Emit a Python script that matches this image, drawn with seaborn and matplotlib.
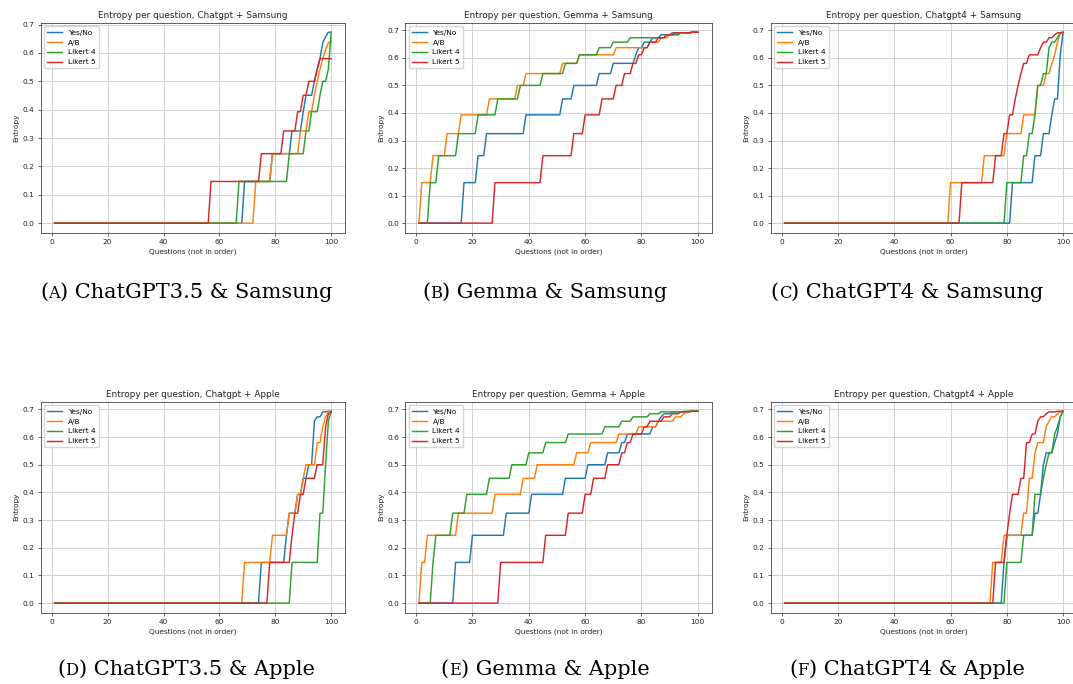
import numpy as np
import pandas as pd
import matplotlib
matplotlib.use("Agg")
import matplotlib.pyplot as plt
import seaborn as sns

# ---------------- data ----------------
# plateau values of the entropy curves (nats)
ENTROPY_LEVELS = [0.0, 0.147, 0.245, 0.325, 0.393, 0.451, 0.500, 0.543,
                  0.580, 0.611, 0.637, 0.657, 0.673, 0.684, 0.691, 0.693]
QUESTIONS = list(range(1, 101))
FORMATS = ["Yes/No", "A/B", "Likert 4", "Likert 5"]
COLORS = ["#1f77b4", "#ff7f0e", "#2ca02c", "#d62728"]

# number of questions lying on each entropy level (index = level)
A_YESNO = [68, 10, 7, 4, 1, 3, 1, 1, 1, 0, 1, 1, 2, 0, 0, 0]
A_AB    = [72, 6, 10, 3, 2, 1, 1, 1, 1, 1, 2, 0, 0, 0, 0, 0]
A_LIK4  = [66, 18, 6, 2, 3, 1, 2, 1, 0, 0, 0, 0, 1, 0, 0, 0]
A_LIK5  = [56, 18, 8, 5, 2, 2, 3, 1, 5, 0, 0, 0, 0, 0, 0, 0]

B_YESNO = [16, 5, 3, 14, 13, 4, 9, 5, 8, 1, 2, 3, 3, 4, 7, 3]
B_AB    = [1, 4, 5, 5, 10, 10, 3, 13, 6, 13, 12, 4, 3, 4, 4, 3]
B_LIK4  = [4, 3, 7, 7, 7, 8, 8, 8, 5, 7, 5, 6, 13, 5, 4, 3]
B_LIK5  = [27, 17, 11, 4, 6, 5, 3, 3, 2, 2, 2, 3, 3, 3, 6, 3]

C_YESNO = [81, 8, 3, 3, 1, 2, 0, 0, 0, 1, 0, 0, 0, 0, 0, 1]
C_AB    = [59, 12, 8, 6, 5, 0, 3, 2, 1, 1, 0, 1, 0, 0, 1, 1]
C_LIK4  = [79, 6, 2, 2, 1, 0, 2, 2, 0, 0, 1, 2, 1, 0, 1, 1]
C_LIK5  = [63, 12, 3, 2, 2, 1, 1, 1, 2, 4, 1, 2, 2, 1, 2, 1]

D_YESNO = [74, 9, 1, 3, 2, 2, 2, 0, 0, 0, 0, 1, 2, 0, 2, 2]
D_AB    = [68, 10, 6, 3, 2, 1, 4, 0, 2, 0, 1, 0, 1, 0, 1, 1]
D_LIK4  = [85, 10, 0, 2, 0, 0, 1, 0, 0, 0, 0, 1, 0, 0, 0, 1]
D_LIK5  = [77, 8, 1, 2, 2, 4, 3, 0, 0, 0, 1, 0, 0, 1, 1, 0]

E_YESNO = [13, 6, 12, 9, 12, 8, 7, 5, 2, 9, 2, 1, 1, 3, 6, 4]
E_AB    = [1, 2, 11, 13, 10, 5, 14, 5, 10, 7, 7, 6, 3, 1, 2, 3]
E_LIK4  = [5, 1, 6, 5, 8, 8, 6, 6, 8, 13, 6, 4, 6, 4, 8, 6]
E_LIK5  = [29, 16, 8, 6, 3, 5, 5, 2, 2, 4, 2, 5, 3, 3, 4, 3]

F_YESNO = [78, 1, 10, 2, 1, 0, 1, 3, 1, 1, 0, 0, 1, 0, 0, 1]
F_AB    = [74, 4, 7, 2, 0, 2, 0, 1, 3, 0, 1, 1, 2, 1, 1, 1]
F_LIK4  = [79, 6, 4, 0, 3, 1, 1, 2, 0, 1, 1, 0, 1, 0, 0, 1]
F_LIK5  = [75, 4, 1, 1, 3, 2, 0, 0, 2, 2, 0, 1, 2, 1, 3, 3]

TITLES = ["Entropy per question, Chatgpt + Samsung",
          "Entropy per question, Gemma + Samsung",
          "Entropy per question, Chatgpt4 + Samsung",
          "Entropy per question, Chatgpt + Apple",
          "Entropy per question, Gemma + Apple",
          "Entropy per question, Chatgpt4 + Apple"]
CAP_LETTERS = ["A", "B", "C", "D", "E", "F"]
CAP_TEXTS = ["ChatGPT3.5 & Samsung", "Gemma & Samsung", "ChatGPT4 & Samsung",
             "ChatGPT3.5 & Apple", "Gemma & Apple", "ChatGPT4 & Apple"]
XTICKS = [0, 20, 40, 60, 80, 100]
YTICKS = [0.0, 0.1, 0.2, 0.3, 0.4, 0.5, 0.6, 0.7]

PANELS = [
    [A_YESNO, A_AB, A_LIK4, A_LIK5],
    [B_YESNO, B_AB, B_LIK4, B_LIK5],
    [C_YESNO, C_AB, C_LIK4, C_LIK5],
    [D_YESNO, D_AB, D_LIK4, D_LIK5],
    [E_YESNO, E_AB, E_LIK4, E_LIK5],
    [F_YESNO, F_AB, F_LIK4, F_LIK5],
]

# ---------------- layout ----------------
W, H = 1073, 684
fig = plt.figure(figsize=(W / 100, H / 100), dpi=100)
fig.patch.set_facecolor("white")

S = 0.613   # scale of lines in the embedded sub-figures
T = 0.535   # scale of text in the embedded sub-figures
# axes boxes in pixels: (left, top, right, bottom)
BOXES = [(40.7, 22.7, 345.0, 232.7), (405.0, 22.7, 711.7, 232.7), (770.7, 22.7, 1077.0, 232.7),
         (40.7, 401.7, 345.0, 612.7), (405.0, 401.7, 711.7, 612.7), (770.7, 401.7, 1077.0, 612.7)]
CAP_CENTERS = [(186, 298), (545, 298), (907, 298), (186, 675), (545, 675), (907, 675)]

for i, (box, series) in enumerate(zip(BOXES, PANELS)):
    l, t, r, b = box
    ax = fig.add_axes([l / W, 1 - b / H, (r - l) / W, (b - t) / H])
    rows = []
    for name, counts in zip(FORMATS, series):
        vals = np.repeat(ENTROPY_LEVELS, counts)
        rows.append(pd.DataFrame({"Question": QUESTIONS, "Entropy": vals, "Format": name}))
    df = pd.concat(rows, ignore_index=True)
    sns.lineplot(data=df, x="Question", y="Entropy", hue="Format",
                 palette=COLORS, hue_order=FORMATS, estimator=None,
                 linewidth=1.7 * S, ax=ax)
    ax.set_xticks(XTICKS)
    ax.set_yticks(YTICKS)
    ax.set_yticklabels([f"{v:.1f}" for v in YTICKS])
    ax.tick_params(labelsize=10 * T, length=3.5 * S, width=0.8 * S, pad=3.5 * S,
                   colors="#222222")
    ax.grid(True, color="#c4c4c4", linewidth=0.9 * S)
    for sp in ax.spines.values():
        sp.set_linewidth(0.9 * S)
        sp.set_color("#333333")
    ax.set_title(TITLES[i], fontsize=12 * T, pad=6 * S, color="#222222")
    ax.set_xlabel("Questions (not in order)", fontsize=10 * T, labelpad=4 * S, color="#222222")
    ax.set_ylabel("Entropy", fontsize=10 * T, labelpad=4 * S, color="#222222")
    ax.legend(loc="upper left", fontsize=10 * T, frameon=True)

# ---------------- captions ----------------
SERIF = "DejaVu Serif"
CAP_FS = 15
caps = []
for (cx, cy), letter, txt in zip(CAP_CENTERS, CAP_LETTERS, CAP_TEXTS):
    y = 1 - cy / H
    t1 = fig.text(0, y, "(", fontsize=CAP_FS, family=SERIF, va="baseline")
    t2 = fig.text(0, y, letter, fontsize=CAP_FS * 0.78, family=SERIF, va="baseline")
    t3 = fig.text(0, y, ") " + txt, fontsize=CAP_FS, family=SERIF, va="baseline")
    caps.append((cx, [t1, t2, t3]))

fig.canvas.draw()
rend = fig.canvas.get_renderer()
for cx, parts in caps:
    widths = [p.get_window_extent(rend).width for p in parts]
    x = cx - sum(widths) / 2
    for p, w in zip(parts, widths):
        p.set_x(x / W)
        x += w

fig.savefig("out.png", dpi=100, facecolor="white")
